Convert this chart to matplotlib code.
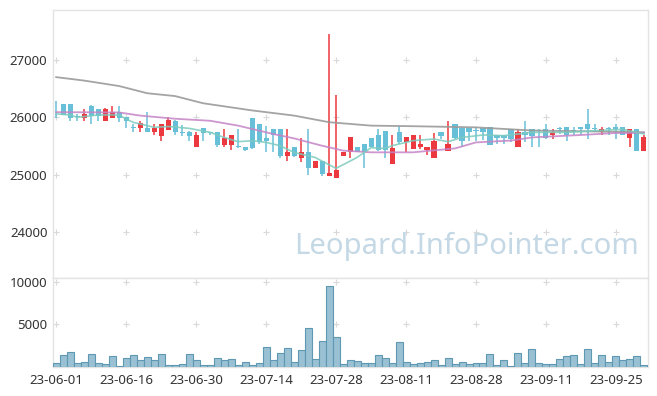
import matplotlib
matplotlib.use("Agg")
import matplotlib.pyplot as plt
import numpy as np

plt.rcParams['font.family'] = ['Noto Sans', 'DejaVu Sans']

# ---------------- data ----------------
tick_labels = ["23-06-01", "23-06-16", "23-06-30", "23-07-14", "23-07-28",
               "23-08-11", "23-08-28", "23-09-11", "23-09-25"]

opens = [26060, 26230, 26230, 26020, 25980, 26200, 26150, 25930, 25980, 26100,
         26000, 25830, 25820, 25810, 25740, 25680, 25780, 25940, 25740, 25750,
         25475, 25810, 25740, 25750, 25520, 25520, 25490, 25490, 25995, 25890,
         25645, 25800, 25800, 25330, 25490, 25285, 25400, 25125, 25240, 24980,
         24935, 25330, 25390, 25480, 25535, 25645, 25690, 25755, 25195, 25750,
         25575, 25445, 25475, 25430, 25285, 25750, 25415, 25885, 25810, 25810,
         25770, 25810, 25835, 25690, 25690, 25795, 25475, 25750, 25795, 25770,
         25795, 25690, 25800, 25835, 25770, 25835, 25885, 25810, 25740, 25800,
         25835, 25835, 25635, 25795, 25415]
highs = [26290, 26240, 26240, 26060, 26150, 26210, 26150, 26160, 26200, 26200,
         26000, 25880, 25940, 26100, 25880, 25880, 26000, 25950, 25870, 25760,
         25740, 25820, 25750, 25750, 25800, 25700, 25800, 25490, 25995, 25890,
         25840, 25800, 25800, 25800, 25490, 25635, 25800, 25240, 25240, 27460,
         26390, 25400, 25650, 25480, 25535, 25645, 25795, 25755, 25690, 25840,
         25650, 25690, 25690, 25490, 25735, 25750, 25940, 25885, 25810, 25810,
         25830, 25810, 25835, 25690, 25690, 25795, 25795, 25940, 25795, 25795,
         25885, 25795, 25825, 25835, 25825, 25835, 26145, 25885, 25825, 25825,
         25885, 25835, 25795, 25795, 25690]
lows = [25990, 26040, 25930, 25940, 25930, 25880, 25940, 25930, 25980, 25910,
        25820, 25740, 25740, 25740, 25690, 25590, 25780, 25690, 25680, 25590,
        25475, 25590, 25690, 25475, 25475, 25435, 25465, 25420, 25440, 25530,
        25400, 25400, 25290, 25240, 25300, 25225, 24990, 25125, 24980, 24980,
        24935, 25330, 25290, 25390, 25125, 25475, 25420, 25285, 25195, 25535,
        25390, 25445, 25445, 25340, 25285, 25630, 25415, 25630, 25490, 25590,
        25590, 25610, 25520, 25535, 25535, 25575, 25475, 25575, 25490, 25475,
        25630, 25630, 25710, 25590, 25690, 25690, 25630, 25750, 25690, 25690,
        25630, 25690, 25475, 25415, 25415]
closes = [26050, 26040, 25980, 26010, 26050, 26030, 26030, 26150, 26100, 25980,
          25930, 25820, 25900, 25740, 25810, 25880, 25950, 25740, 25735, 25680,
          25690, 25725, 25735, 25520, 25645, 25700, 25480, 25425, 25470, 25575,
          25580, 25690, 25330, 25400, 25330, 25400, 25125, 25240, 25010, 25030,
          25085, 25400, 25650, 25390, 25390, 25475, 25435, 25435, 25470, 25575,
          25650, 25690, 25535, 25490, 25590, 25680, 25535, 25635, 25590, 25740,
          25765, 25740, 25520, 25635, 25635, 25620, 25750, 25690, 25680, 25765,
          25635, 25750, 25795, 25690, 25765, 25795, 25795, 25805, 25795, 25795,
          25795, 25690, 25795, 25415, 25650]
volumes = [470, 1410, 1800, 470, 625, 1520, 470, 350, 1290, 120,
           1055, 1410, 820, 1170, 820, 1520, 195, 195, 350, 1520,
           820, 195, 195, 1055, 820, 940, 235, 585, 235, 470,
           2340, 820, 1640, 2230, 585, 1990, 4570, 940, 3050, 9490,
           3520, 350, 820, 700, 470, 470, 1410, 1055, 470, 2930,
           585, 350, 470, 585, 820, 235, 1055, 350, 585, 350,
           470, 470, 1520, 235, 820, 120, 1640, 470, 2110, 470,
           350, 350, 940, 1290, 1410, 350, 2110, 470, 1410, 585,
           1290, 820, 940, 1290, 235]

# moving-average lines, points (day index, price)
ma_long_idx = [0, 4, 9, 13, 17, 21, 28, 34, 39, 45, 51, 60, 68, 84]
ma_long_val = [26700, 26640, 26545, 26420, 26370, 26245, 26120, 26030, 25915,
               25855, 25845, 25825, 25770, 25740]
ma_mid_idx = [0, 9, 12, 17, 22, 26, 31, 34, 38, 41, 45, 51, 57, 60, 65, 68, 75, 80, 84]
ma_mid_val = [26090, 26085, 26030, 25975, 25940, 25855, 25710, 25633, 25505,
              25420, 25390, 25390, 25458, 25563, 25595, 25650, 25692, 25727, 25727]
ma_short_idx = [0, 2, 3, 6, 9, 10, 11, 13, 14, 16, 19, 22, 24, 26, 28, 30, 32, 34,
                37, 40, 43, 45, 47, 48, 51, 54, 56, 58, 61, 64, 68, 73, 77, 81, 84]
ma_short_val = [26060, 26041, 26000, 26041, 26041, 25971, 25913, 25855, 25825,
                25840, 25808, 25738, 25650, 25575, 25593, 25563, 25505, 25388,
                25301, 25110, 25301, 25470, 25458, 25505, 25593, 25622, 25575,
                25650, 25692, 25680, 25738, 25738, 25767, 25790, 25710]

price_ticks = [24000, 25000, 26000, 27000]
volume_ticks = [5000, 10000]

# ---------------- styling ----------------
UP = "#ec383f"
DOWN = "#68c0d8"
GRID_C = "#d9d9d9"
SPINE_C = "#e3e3e3"
TXT = "#333333"

W, H = 657, 396
fig = plt.figure(figsize=(W / 100, H / 100), dpi=100)
L, R = 53, 648
ax = fig.add_axes([L / W, 1 - 278 / H, (R - L) / W, (278 - 10) / H])
axv = fig.add_axes([L / W, 1 - 367 / H, (R - L) / W, (367 - 278) / H], sharex=ax)

n = len(closes)
x = np.arange(n)
o = np.array(opens, float)
c = np.array(closes, float)
hi = np.array(highs, float)
lo = np.array(lows, float)
up = c > o
colors = np.where(up, UP, DOWN)

# grid "+" markers
tick_pos = np.arange(0, n, 10)
gx, gy = np.meshgrid(tick_pos, price_ticks)
ax.plot(gx.ravel(), gy.ravel(), linestyle="none", marker="+", ms=5,
        mew=0.8, color=GRID_C, zorder=1)
gx2, gy2 = np.meshgrid(tick_pos, volume_ticks)
axv.plot(gx2.ravel(), gy2.ravel(), linestyle="none", marker="+", ms=5,
         mew=0.8, color=GRID_C, zorder=1)

# watermark
ax.text(0.985, 0.09, "Leopard.InfoPointer.com", transform=ax.transAxes,
        ha="right", va="baseline", fontsize=21, color="#c5d8e5",
        fontweight="light", zorder=1)

# candles
ax.vlines(x, lo, hi, colors=colors, linewidth=1.1, zorder=3)
body_bottom = np.minimum(o, c)
body_h = np.maximum(np.abs(c - o), 14)
ax.bar(x, body_h, bottom=body_bottom, width=0.72, color=colors,
       linewidth=0, zorder=4)

# moving averages
ax.plot(ma_long_idx, ma_long_val, color="#9a9a9a", lw=1.3, alpha=0.9, zorder=5)
ax.plot(ma_mid_idx, ma_mid_val, color="#c584c6", lw=1.3, alpha=0.85, zorder=5)
ax.plot(ma_short_idx, ma_short_val, color="#7ccbbd", lw=1.2, alpha=0.85, zorder=5)

ax.set_ylim(23200, 27870)
ax.set_xlim(-0.45, n - 0.42)
ax.set_yticks(price_ticks)
ax.set_yticklabels([str(t) for t in price_ticks])
ax.tick_params(axis="x", which="both", length=0, labelbottom=False)
ax.tick_params(axis="y", length=0, pad=4, labelsize=9.5, labelcolor=TXT)

# volume
axv.bar(x, volumes, width=1.0, color="#99c1d3", edgecolor="#5f98b3",
        linewidth=0.8, zorder=3)
axv.set_ylim(0, 10470)
axv.set_yticks(volume_ticks)
axv.set_yticklabels([str(t) for t in volume_ticks])
axv.set_xticks(tick_pos)
axv.set_xticklabels(tick_labels)
axv.tick_params(axis="x", length=0, pad=5, labelsize=9.5, labelcolor=TXT)
axv.tick_params(axis="y", length=0, pad=4, labelsize=9.5, labelcolor=TXT)

for a in (ax, axv):
    for s in a.spines.values():
        s.set_color(SPINE_C)
        s.set_linewidth(1.0)

fig.savefig("out.png", dpi=100, facecolor="white")
